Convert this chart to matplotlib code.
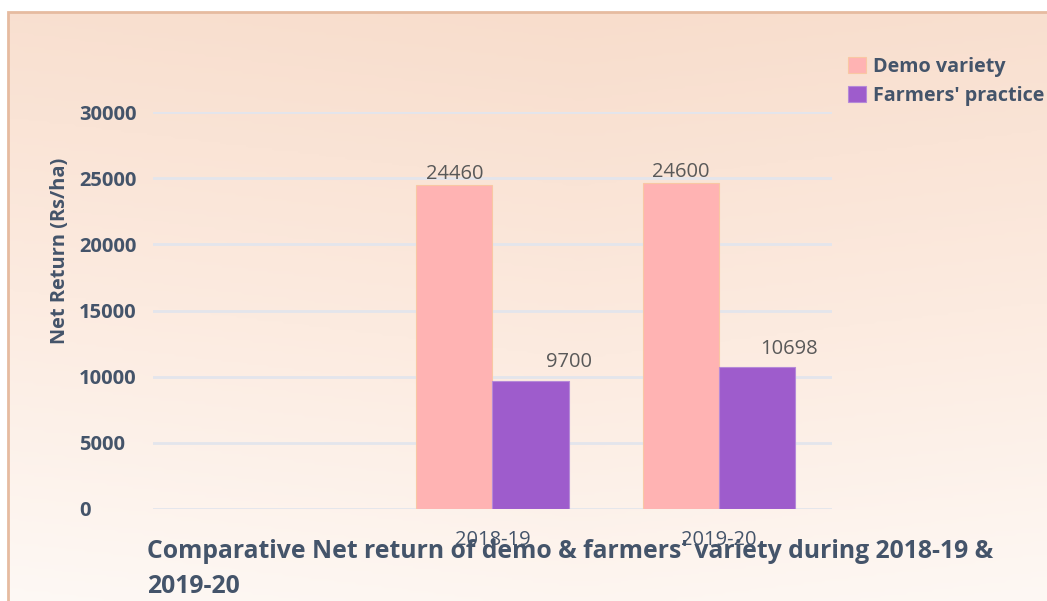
import numpy as np
import matplotlib
matplotlib.use("Agg")
import matplotlib.pyplot as plt
from matplotlib.colors import LinearSegmentedColormap
from matplotlib.patches import Rectangle

# ---- data ----
categories = ["", "2018-19", "2019-20"]
demo_variety = [np.nan, 24460, 24600]
farmers_practice = [np.nan, 9700, 10698]
series_names = ["Demo variety", "Farmers' practice"]
yticks = [0, 5000, 10000, 15000, 20000, 25000, 30000]
title_lines = ["Comparative Net return of demo & farmers' variety during 2018-19 &", "2019-20"]
ylabel = "Net Return (Rs/ha)"

FONT = ["Open Sans", "DejaVu Sans"]
plt.rcParams['font.family'] = FONT
DARK = "#44546a"
GREY = "#595959"
C_DEMO = "#ffb3b3"
C_FARM = "#9e5ccc"

W, H = 1047, 601
PX = 72 / 100  # points per pixel
fig = plt.figure(figsize=(W / 100, H / 100), dpi=100)
fig.patch.set_facecolor("white")

# background panel with gradient
bg = fig.add_axes([8 / W, 0, 1 - 8 / W, 1 - 12 / H], zorder=-10)
cmap = LinearSegmentedColormap.from_list("bg", ["#fefaf7", "#fcebe0", "#f8ddcc"])
yy, xx = np.mgrid[0:1:200j, 0:1:200j]
grad = yy * 0.85 + 0.15 * (1 - np.abs(xx - 0.55) * 1.2)
bg.imshow(grad, cmap=cmap, origin="lower", aspect="auto", extent=[0, 1, 0, 1],
          vmin=0, vmax=1)
bg.set_axis_off()
fig.patches.append(Rectangle((8 / W, -0.01), 1.1, 1 - 12 / H + 0.01, transform=fig.transFigure,
                             fill=False, edgecolor="#e6bba0", linewidth=2, zorder=-5))

ax = fig.add_axes([153 / W, 1 - 509 / H, (832 - 153) / W, (509 - 112) / H])
ax.set_facecolor("none")
x = np.arange(len(categories))
bw = 0.336
ax.bar(x - bw / 2, demo_variety, bw, color=C_DEMO, edgecolor="#f9c7a3",
       linewidth=0.8, label=series_names[0], zorder=3)
ax.bar(x + bw / 2, farmers_practice, bw, color=C_FARM, edgecolor="#b58ad8",
       linewidth=0.8, label=series_names[1], zorder=3)

for xi, v in zip(x, demo_variety):
    if np.isfinite(v):
        ax.annotate(f"{v:.0f}", (xi - bw / 2, v), xytext=(0, 1), textcoords="offset points",
                    ha="center", va="bottom", color=GREY, fontsize=14.5)
for xi, v in zip(x, farmers_practice):
    if np.isfinite(v):
        ax.annotate(f"{v:.0f}", (xi + bw, v), xytext=(23 * PX, 6), textcoords="offset points",
                    ha="right", va="bottom", color=GREY, fontsize=14.5)

ax.set_xlim(-0.5, len(categories) - 0.5)
ax.set_ylim(0, 30000)
ax.set_yticks(yticks)
ax.set_yticklabels([str(t) for t in yticks], fontweight="bold", color=DARK, fontsize=14.5, ha="left")
ax.tick_params(axis="y", length=0, pad=(153 - 79) * PX)
ax.set_xticks(x)
ax.set_xticklabels(categories, color=DARK, fontsize=14.5)
ax.tick_params(axis="x", length=0, pad=21 * PX)
ax.grid(axis="y", color="#e3e5ec", linewidth=2, zorder=0)
for s in ax.spines.values():
    s.set_visible(False)

fig.text(60 / W, 1 - 251 / H, ylabel, rotation=90, ha="center", va="center",
         color=DARK, fontweight="bold", fontsize=14.4)

for i, line in enumerate(title_lines):
    fig.text(147 / W, 1 - (558 + 35 * i) / H, line, ha="left", va="baseline", color=DARK,
             fontweight="bold", fontsize=17.8, zorder=-1)

ax.legend(loc="upper left", bbox_to_anchor=(848 / W, 1 - 57 / H), bbox_transform=fig.transFigure,
          frameon=False, prop={"weight": "bold", "size": 14.2, "family": FONT},
          labelcolor=DARK, handlelength=0.9, handleheight=0.9, handletextpad=0.35,
          labelspacing=0.45, borderpad=0, borderaxespad=0)

fig.savefig("out.png", dpi=100)
